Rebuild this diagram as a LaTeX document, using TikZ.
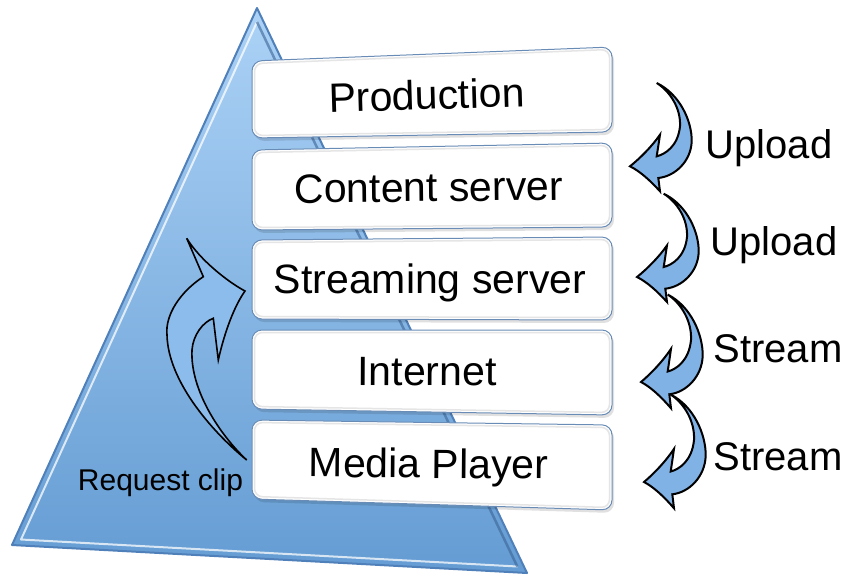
\documentclass[tikz,border=0pt]{standalone}
\usepackage{fontspec}
\setmainfont{Liberation Sans}
\definecolor{boxline}{RGB}{105,140,182}
\definecolor{arrowblue}{RGB}{128,178,230}
\definecolor{tritop}{RGB}{172,210,246}
\definecolor{tribot}{RGB}{100,156,211}
\definecolor{triedge}{RGB}{80,128,185}
\definecolor{tridark}{RGB}{60,100,150}
\definecolor{leftfill}{RGB}{140,188,235}
\begin{document}
\begin{tikzpicture}[x=1pt,y=-1pt,
  boxshape/.style={fill=white, draw=boxline, line width=1pt, rounded corners=10pt},
  boxinner/.style={draw=black!10, line width=1.5pt, rounded corners=8pt},
  boxshadow/.style={fill=black, opacity=0.12, rounded corners=10pt},
  boxtext/.style={font=\fontsize{41}{48}\selectfont, anchor=base, inner sep=0pt},
  lbl/.style={font=\fontsize{40}{48}\selectfont, anchor=base, inner sep=0pt},
  rarrowstyle/.style={fill=arrowblue, draw=black, line width=2pt, line join=miter},
  rarrow/.pic={
    \draw[rarrowstyle] (0,0) .. controls (10,-8) and (22,-20) .. (30,-31.6)
      -- (26.7,-10)
      .. controls (35,-12) and (48,-20) .. (50,-40)
      .. controls (51,-58) and (40,-75) .. (26.7,-83.3)
      .. controls (50,-72) and (62,-45) .. (61.7,-25)
      .. controls (61,-5) and (45,10) .. (28.3,11.7)
      -- (30,25)
      .. controls (20,14) and (10,5) .. (0,0) -- cycle;
  }
]
\useasboundingbox (0,0) rectangle (848,574);
% triangle
\coordinate (tA) at (257,8);
\coordinate (tB) at (12,545);
\coordinate (tC) at (527,573);
\foreach \s in {2,4,6,8,10,12}{
  \fill[black, opacity=0.14, shift={(\s,\s/3)}] (tA) -- (tB) -- (tC) -- cycle;
}
\shade[top color=tritop, bottom color=tribot] (tA) -- (tB) -- (tC) -- cycle;
\draw[triedge, line width=2pt, line join=round] (tA) -- (tB) -- (tC) -- cycle;
\draw[white, opacity=0.75, line width=2pt, line join=round] (257,22) -- (21,539.5) -- (517.3,566.5);
\draw[tridark, opacity=0.6, line width=2.5pt] (517.3,566.5) -- (257,22);
% boxes
\foreach \a/\b/\c/\d in {61/47/132/138, 150/143/227/230, 240/237/320/319, 330/330/415/409, 420/425/510/499}{
  \fill[boxshadow, shift={(2,3)}] (252,\a) -- (612,\b) -- (612,\c) -- (252,\d) -- cycle;
  \draw[boxshape] (252,\a) -- (612,\b) -- (612,\c) -- (252,\d) -- cycle;
  \draw[boxinner] (254.5,\a+2.5) -- (609.5,\b+2.5) -- (609.5,\c-2.5) -- (254.5,\d-2.5) -- cycle;
}
\node[boxtext, rotate=1.7] (prod) at (427,109.5) {Production};
\node[boxtext, rotate=0.65] (cont) at (429,201.5) {Content server};
\node[boxtext] (strm) at (430,293) {Streaming server};
\node[boxtext, rotate=-0.3] (inet) at (427,385.5) {Internet};
\node[boxtext, rotate=-0.5] (media) at (428.5,478) {Media Player};
% left request arrow
\draw[fill=leftfill, draw=black, line width=1.6pt, line join=miter]
  (186.7,238.3) -- (203.3,276.7)
  .. controls (180,292) and (165,315) .. (167,335)
  .. controls (168,380) and (210,430) .. (246.7,460)
  .. controls (220,435) and (190,390) .. (192,350)
  .. controls (193,335) and (203,322) .. (213.3,318.3)
  -- (218.3,360)
  .. controls (225,330) and (235,305) .. (245,291)
  .. controls (228,282) and (200,260) .. (186.7,238.3) -- cycle;
\node[font=\fontsize{30}{36}\selectfont, anchor=base, inner sep=0pt] (req) at (160.5,490) {Request clip};
% right arrows
\pic at (630,166.3) {rarrow};
\pic at (637,277) {rarrow};
\pic[yscale=1.05] at (641,382) {rarrow};
\pic[yscale=1.05] at (644,482) {rarrow};
\node[lbl] (up1) at (769,158) {Upload};
\node[lbl] (up2) at (774,255) {Upload};
\node[lbl] (st1) at (778,362) {Stream};
\node[lbl] (st2) at (778,470) {Stream};
\end{tikzpicture}
\end{document}
